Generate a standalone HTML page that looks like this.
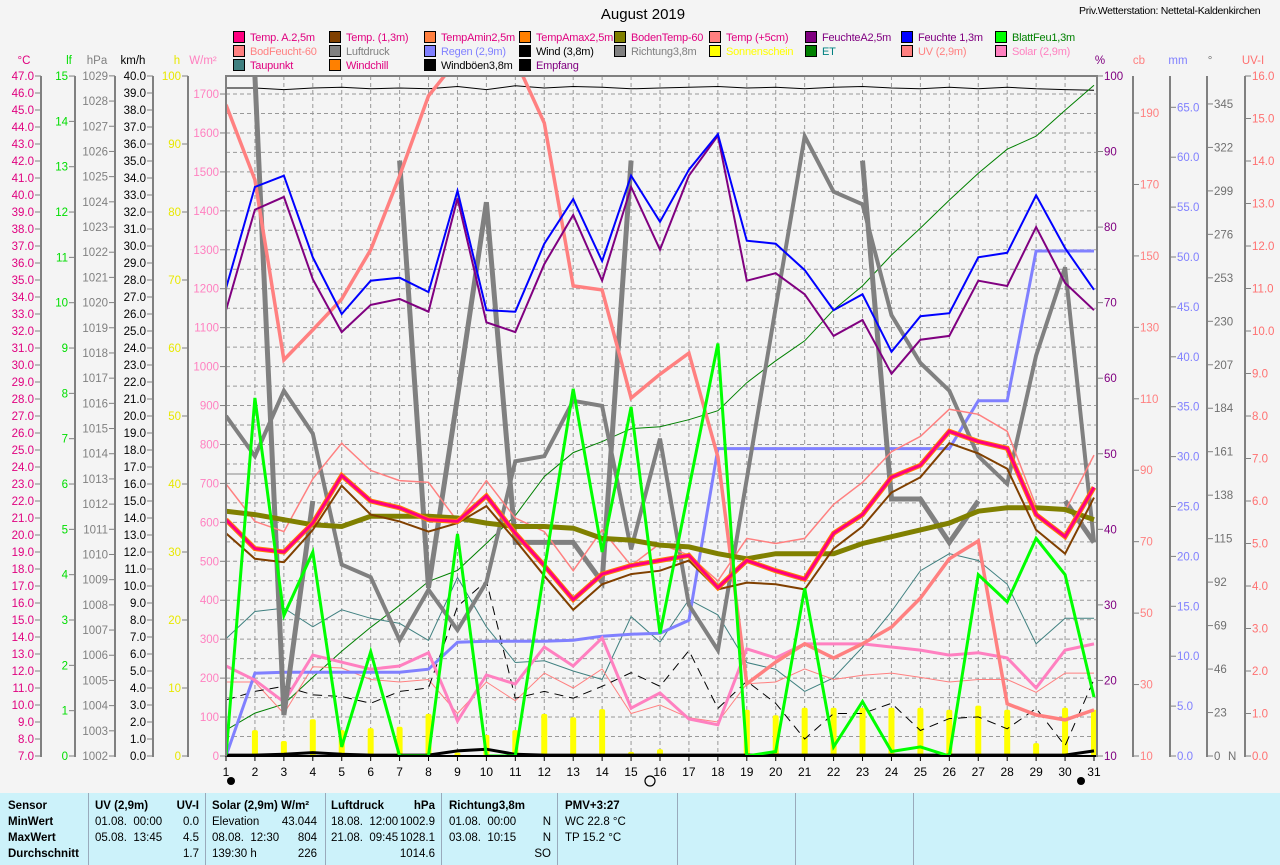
<!DOCTYPE html>
<html><head><meta charset="utf-8">
<style>
body{margin:0;background:#f4f4f4;font-family:"Liberation Sans",sans-serif;}
#wrap{position:relative;width:1280px;height:865px;overflow:hidden;background:#f4f4f4;}
.lg{position:absolute;font-size:11px;white-space:nowrap;line-height:14px;letter-spacing:-0.2px;}
.lg i{display:inline-block;width:10px;height:10px;border:1px solid #000;margin-right:5px;vertical-align:-2px;}
#tbl{position:absolute;left:0;top:793px;width:1280px;height:72px;background:#ccf2fa;font-size:11.5px;}
.c{position:absolute;top:0;height:72px;border-right:1px solid #9ab;}
.r{position:absolute;white-space:nowrap;}
b{font-weight:bold}
</style></head><body>
<div id="wrap">
<div style="position:absolute;left:0;width:1286px;text-align:center;top:6px;font-size:15px;">August 2019</div>
<div style="position:absolute;left:1079px;top:5px;font-size:10.5px;white-space:nowrap;letter-spacing:-0.3px;">Priv.Wetterstation: Nettetal-Kaldenkirchen</div>

<div>
<div class="lg" style="left:233px;top:31px;color:#e0007f"><i style="background:#ff0080"></i>Temp. A.2,5m</div>
<div class="lg" style="left:329px;top:31px;color:#e0007f"><i style="background:#804000"></i>Temp. (1,3m)</div>
<div class="lg" style="left:424px;top:31px;color:#e0007f"><i style="background:#ff8040"></i>TempAmin2,5m</div>
<div class="lg" style="left:519px;top:31px;color:#e0007f"><i style="background:#ff8000"></i>TempAmax2,5m</div>
<div class="lg" style="left:614px;top:31px;color:#e0007f"><i style="background:#808000"></i>BodenTemp-60</div>
<div class="lg" style="left:709px;top:31px;color:#e0007f"><i style="background:#ff8080"></i>Temp (+5cm)</div>
<div class="lg" style="left:805px;top:31px;color:#800080"><i style="background:#800080"></i>FeuchteA2,5m</div>
<div class="lg" style="left:901px;top:31px;color:#800080"><i style="background:#0000ff"></i>Feuchte 1,3m</div>
<div class="lg" style="left:995px;top:31px;color:#008000"><i style="background:#00ff00"></i>BlattFeu1,3m</div>

<div class="lg" style="left:233px;top:45px;color:#ff8080"><i style="background:#ff8080"></i>BodFeucht-60</div>
<div class="lg" style="left:329px;top:45px;color:#808080"><i style="background:#808080"></i>Luftdruck</div>
<div class="lg" style="left:424px;top:45px;color:#8080ff"><i style="background:#8080ff"></i>Regen (2,9m)</div>
<div class="lg" style="left:519px;top:45px;color:#000"><i style="background:#000"></i>Wind (3,8m)</div>
<div class="lg" style="left:614px;top:45px;color:#808080"><i style="background:#808080"></i>Richtung3,8m</div>
<div class="lg" style="left:709px;top:45px;color:#ffff00"><i style="background:#ffff00"></i>Sonnenschein</div>
<div class="lg" style="left:805px;top:45px;color:#008080"><i style="background:#008000"></i>ET</div>
<div class="lg" style="left:901px;top:45px;color:#ff8080"><i style="background:#ff8080"></i>UV (2,9m)</div>
<div class="lg" style="left:995px;top:45px;color:#ff80c0"><i style="background:#ff80c0"></i>Solar (2,9m)</div>

<div class="lg" style="left:233px;top:59px;color:#e0007f"><i style="background:#408080"></i>Taupunkt</div>
<div class="lg" style="left:329px;top:59px;color:#e0007f"><i style="background:#ff8000"></i>Windchill</div>
<div class="lg" style="left:424px;top:59px;color:#000"><i style="background:#000"></i>Windböen3,8m</div>
<div class="lg" style="left:519px;top:59px;color:#800080"><i style="background:#000"></i>Empfang</div>
</div>

<svg id="chart" width="1280" height="793" style="position:absolute;left:0;top:0" font-family="Liberation Sans, sans-serif"></svg>

<div id="tbl">
<div class="c" style="left:0;width:88px"><div class="r" style="left:8px;top:7px"><b>Sensor</b></div><div class="r" style="left:8px;top:23px"><b>MinWert</b></div><div class="r" style="left:8px;top:39px"><b>MaxWert</b></div><div class="r" style="left:8px;top:55px"><b>Durchschnitt</b></div></div>
<div class="c" style="left:89px;width:116px"><div class="r" style="left:6px;top:7px"><b>UV (2,9m)</b></div><div class="r" style="right:6px;top:7px"><b>UV-I</b></div><div class="r" style="left:6px;top:23px">01.08.&nbsp; 00:00</div><div class="r" style="right:6px;top:23px">0.0</div><div class="r" style="left:6px;top:39px">05.08.&nbsp; 13:45</div><div class="r" style="right:6px;top:39px">4.5</div><div class="r" style="right:6px;top:55px">1.7</div></div>
<div class="c" style="left:206px;width:119px"><div class="r" style="left:6px;top:7px"><b>Solar (2,9m) W/m²</b></div><div class="r" style="left:6px;top:23px">Elevation</div><div class="r" style="right:8px;top:23px">43.044</div><div class="r" style="left:6px;top:39px">08.08.&nbsp; 12:30</div><div class="r" style="right:8px;top:39px">804</div><div class="r" style="left:6px;top:55px">139:30 h</div><div class="r" style="right:8px;top:55px">226</div></div>
<div class="c" style="left:326px;width:115px"><div class="r" style="left:5px;top:7px"><b>Luftdruck</b></div><div class="r" style="right:6px;top:7px"><b>hPa</b></div><div class="r" style="left:5px;top:23px">18.08.&nbsp; 12:00</div><div class="r" style="right:6px;top:23px">1002.9</div><div class="r" style="left:5px;top:39px">21.08.&nbsp; 09:45</div><div class="r" style="right:6px;top:39px">1028.1</div><div class="r" style="right:6px;top:55px">1014.6</div></div>
<div class="c" style="left:442px;width:115px"><div class="r" style="left:7px;top:7px"><b>Richtung3,8m</b></div><div class="r" style="left:7px;top:23px">01.08.&nbsp; 00:00</div><div class="r" style="right:6px;top:23px">N</div><div class="r" style="left:7px;top:39px">03.08.&nbsp; 10:15</div><div class="r" style="right:6px;top:39px">N</div><div class="r" style="right:6px;top:55px">SO</div></div>
<div class="c" style="left:558px;width:119px"><div class="r" style="left:7px;top:7px"><b>PMV+3:27</b></div><div class="r" style="left:7px;top:23px">WC 22.8 °C</div><div class="r" style="left:7px;top:39px">TP 15.2 °C</div></div>
<div class="c" style="left:678px;width:117px"></div>
<div class="c" style="left:796px;width:117px"></div>
</div>
</div>

<script>
// ---- data (per day 1..31) ----
const days = [1,2,3,4,5,6,7,8,9,10,11,12,13,14,15,16,17,18,19,20,21,22,23,24,25,26,27,28,29,30,31];
const feuchte13 = [71.9,85.3,86.8,76.0,68.5,72.9,73.3,71.4,84.8,69.0,68.8,77.8,83.7,75.5,86.8,80.7,87.6,92.3,78.2,77.8,74.3,69.0,71.1,63.5,68.2,68.6,76.0,76.6,84.2,77.2,71.7];
const feuchteA = [69.0,82.3,84.0,73.1,66.1,69.7,70.5,68.8,83.8,67.4,66.1,75.1,81.6,72.9,85.3,77.0,86.8,92.1,72.9,73.9,71.1,65.6,67.7,60.6,65.1,65.6,72.9,72.2,80.0,72.6,69.0];
const tempA = [20.9,19.2,19.0,20.7,23.5,22.0,21.6,20.9,20.8,22.3,20.1,18.2,16.2,17.7,18.2,18.5,18.8,16.9,18.5,17.9,17.4,20.1,21.2,23.4,24.1,26.1,25.5,25.1,21.2,19.9,22.8];
const temp13 = [20.1,18.6,18.4,20.3,22.9,21.2,20.8,20.2,20.7,21.7,19.7,17.6,15.6,17.1,17.7,17.9,18.5,16.8,17.2,17.1,16.8,19.2,20.5,22.5,23.4,25.4,24.8,23.9,20.3,18.9,22.2];
const bodenTemp = [21.4,21.2,20.9,20.6,20.5,21.1,21.1,21.1,21.0,20.7,20.5,20.5,20.4,19.8,19.7,19.4,19.3,18.9,18.6,18.9,18.9,18.9,19.5,19.9,20.3,20.7,21.4,21.6,21.6,21.5,20.9];
const temp5cm = [23.0,20.8,20.2,23.3,25.4,23.8,23.2,23.1,20.8,23.2,21.0,20.2,17.9,20.3,18.2,19.5,18.8,17.3,19.8,19.5,19.8,21.8,23.1,24.9,25.8,27.4,27.1,26.1,21.7,21.4,24.7];
const taupunkt = [13.9,15.5,15.7,14.6,15.6,15.1,14.8,13.8,17.5,14.6,12.5,12.6,12.0,11.5,15.2,13.7,16.2,15.3,12.5,12.1,10.8,11.6,13.4,15.5,17.9,18.9,18.5,17.1,13.6,15.1,15.1];
const bodFeucht = [192.3,171.3,120.9,129.3,137.9,151.7,172.4,194.8,205,205,205,187.2,141.6,140.5,110.2,116.9,122.8,93.7,30.2,36.3,41.4,37.4,41.4,46.1,54.2,65.2,70.2,24.6,21.5,20.1,22.9];
const solar = [231,195,139,259,241,223,231,265,90,208,185,280,231,303,123,162,95,80,275,252,288,288,288,280,272,259,265,252,175,272,288];
const uv = [1.74,1.74,1.0,2.1,2.07,1.8,1.74,1.8,1.0,1.74,1.3,1.95,1.6,2.05,1.0,1.2,0.9,0.8,1.7,1.74,2.05,1.8,1.9,1.95,1.85,1.74,1.8,1.8,1.5,1.95,1.95];
const regen = [0,8.3,8.4,8.4,8.4,8.4,8.4,8.7,11.4,11.5,11.5,11.5,11.6,12.0,12.2,12.3,13.6,30.8,30.8,30.8,30.8,30.8,30.8,30.8,30.8,30.8,35.6,35.6,50.6,50.6,50.6];
const et = [2.6,4.3,5.2,7.9,10.5,12.9,15.1,17.5,18.6,21.3,24.1,28.0,30.4,31.5,32.8,33.0,33.7,34.6,37.4,39.6,41.6,44.7,47.1,50.2,52.9,55.7,58.4,60.8,62.1,64.7,67.2];
const luftdruck = [1015.5,1013.9,1016.5,1014.8,1009.6,1009.1,1006.6,1008.6,1007.0,1008.9,1013.7,1013.9,1016.1,1015.9,1010.2,1014.6,1008.0,1006.2,1013.0,1019.8,1026.6,1024.4,1023.9,1019.5,1017.6,1016.5,1013.9,1012.8,1017.9,1021.4,1010.5];
const richtung = [null,360,21.7,135,null,null,315,89,190,293,113,113,113,92,315,null,null,null,null,null,null,null,315,136,136,113,135,null,null,135,113];
const blattFeuchte = [0,7.9,3.1,4.5,0.2,2.3,0,0,4.9,0,0,4.1,8.1,4.5,7.7,2.7,5.9,9.1,0,0.1,3.7,0.2,1.2,0.1,0.2,0,4.0,3.4,4.8,4.0,1.3];
const windboeen = [3.3,3.8,4.1,3.6,3.5,3.1,3.8,4.0,8.8,10.3,3.4,3.8,3.4,4.1,4.9,4.1,6.2,2.8,4.4,3.1,1.0,2.5,2.5,3.1,1.5,2.2,2.3,1.6,2.8,0.6,4.5];
const wind = [0.05,0.05,0.1,0.2,0.1,0.05,0.05,0.05,0.3,0.4,0.1,0.05,0.05,0.05,0.05,0.05,0.05,0.05,0.05,0.05,0.05,0.05,0.05,0.05,0.05,0.05,0.05,0.05,0.05,0.05,0.3];
const empfang = [98.4,98.4,98.2,98.4,98.5,98.3,98.4,98.3,98.6,98.2,98.7,98.4,98.6,98.5,98.3,98.4,98.5,98.6,98.4,98.5,98.3,98.5,98.6,98.4,98.3,98.5,98.3,98.5,98.3,98.2,98.1];
const sonnenschein = [0,3.8,2.2,5.4,3.8,4.1,4.3,6.2,0.5,3.1,3.8,6.2,5.7,6.9,0.6,1.0,0,0,6.8,6.0,7.1,7.1,7.1,7.1,7.1,6.8,7.4,6.8,1.9,7.1,6.8];

// ---- scales ----
const X = d => 226 + (d-1)*28.933;
const yT = v => 756 - (v-7)*17;
const yP = v => 756 - (v-10)*7.556;
const yW = v => 756 - v*0.3894;
const yMM = v => 756 - v*9.98;
const yDeg = v => 756 - v*1.89;
const yCb = v => 756 - (v-10)*3.572;
const yKmh = v => 756 - v*17;
const yH = v => 756 - v*6.8;
const yHpa = v => 756 - (v-1002)*25.19;
const yLf = v => 756 - v*45.33;
const yUV = v => 756 - v*42.5;

const NS='http://www.w3.org/2000/svg';
const svg=document.getElementById('chart');
function mk(tag,attrs,parent){const e=document.createElementNS(NS,tag);for(const k in attrs)e.setAttribute(k,attrs[k]);(parent||svg).appendChild(e);return e;}

const defs=mk('defs',{});
const cp=mk('clipPath',{id:'pc'},defs);
mk('rect',{x:226,y:76,width:871,height:680},cp);

const grid=mk('g',{});


for(let v=50;v<=1750;v+=50){const y=yW(v);if(y<77)continue;mk('line',{x1:226,x2:1097,y1:y,y2:y,stroke:'#999','stroke-dasharray':'4,3','stroke-width':1},grid);}
for(const d of days){if(d===1||d===31)continue;mk('line',{x1:X(d),x2:X(d),y1:76,y2:756,stroke:'#999','stroke-dasharray':'4,3','stroke-width':1},grid);}
const refl=mk('line',{x1:226,x2:1097,y1:474,y2:474,stroke:'#888','stroke-width':1});



const plot=mk('g',{'clip-path':'url(#pc)'});



for(let i=0;i<days.length;i++){
  if(sonnenschein[i]<=0)continue;
  const y=yH(sonnenschein[i]);
  const b=mk('rect',{x:X(days[i])-3,y:y,width:6,height:756-y,fill:'#ffff00',rx:2},plot);
  
  
}

function line(vals,sy,color,w,name,dash){
  let d='',pen=false;
  for(let i=0;i<vals.length;i++){
    if(vals[i]===null){pen=false;continue;}
    d+=(pen?'L':'M')+X(days[i]).toFixed(1)+' '+sy(vals[i]).toFixed(1)+' ';
    pen=true;
  }
  const p=mk('path',{d:d,fill:'none',stroke:color,'stroke-width':w,'stroke-linejoin':'miter'},plot);
  if(dash)p.setAttribute('stroke-dasharray',dash);
  
  
  return p;
}
line(empfang,yP,'#000',1,'empfang-line');
line(et,yMM,'#008000',1,'et-line');
line(taupunkt,yT,'#408080',1,'taupunkt-line');
line(uv,yUV,'#ff8080',1,'uv-line');
line(windboeen,yKmh,'#000',1,'windboeen-line','9,6');
line(regen,yMM,'#8080ff',3,'regen-line');
line(solar,yW,'#ff80c0',3,'solar-line');
line(luftdruck,yHpa,'#808080',4,'luftdruck-line');
line(richtung,yDeg,'#808080',5,'richtung-line');
line(wind,yKmh,'#000',3,'wind-line');
line(bodFeucht,yCb,'#ff8080',3.5,'bodfeucht-line');
line(temp5cm,yT,'#ff8080',1.5,'temp-5cm-line');
line(bodenTemp,yT,'#808000',5,'bodentemp-line');
line(temp13,yT,'#804000',2,'temp-13-line');
line(tempA,yT,'#ff8000',5,'tempamax-line');
line(tempA,yT,'#ff0080',3,'temp-a-line');
line(feuchteA,yP,'#800080',2,'feuchte-a-line');
line(feuchte13,yP,'#0000ff',2,'feuchte-13-line');
line(blattFeuchte,yLf,'#00ff00',3,'blattfeuchte-line');

const fr=mk('rect',{x:226,y:76,width:871,height:680,fill:'none',stroke:'#808080','stroke-width':2});


mk('line',{x1:226,x2:1097,y1:756,y2:756,stroke:'#000','stroke-width':2});

function axis(name,x,from,to,step,sy,color,side,fmt,unit,ux){
  const g=mk('g',{fill:color,'font-size':11.5});
  
  
  mk('line',{x1:x,x2:x,y1:76,y2:757,stroke:'#808080','stroke-width':2},g);
  for(let v=from;step>0?v<=to+1e-6:v>=to-1e-6;v+=step){
    const y=sy(v);
    if(side==='L'){mk('line',{x1:x-6,x2:x,y1:y,y2:y,stroke:'#808080'},g);
      const t=mk('text',{x:x-7,y:y+4,'text-anchor':'end'},g);t.textContent=fmt(v);}
    else{mk('line',{x1:x,x2:x+6,y1:y,y2:y,stroke:'#808080'},g);
      const t=mk('text',{x:x+7,y:y+4},g);t.textContent=fmt(v);}
  }
  const u=mk('text',{x:ux,y:64,'text-anchor':'middle'},g);u.textContent=unit;
}
axis('celsius-axis',41,7,47,1,yT,'#e0007f','L',v=>v.toFixed(1),'°C',24);
axis('leaf-wetness-axis',75,0,15,1,yLf,'#00dd00','L',v=>String(v),'lf',69);
axis('pressure-axis',115,1002,1029,1,yHpa,'#808080','L',v=>String(v),'hPa',97);
axis('wind-speed-axis',153,0,40,1,yKmh,'#000','L',v=>v.toFixed(1),'km/h',133);
axis('sunshine-axis',188,0,100,10,yH,'#e8e800','L',v=>String(v),'h',177);
axis('solar-axis',226,0,1700,100,yW,'#ff80c0','L',v=>String(v),'W/m²',203);
axis('humidity-axis',1097,10,100,10,yP,'#800080','R',v=>String(v),'%',1100);
axis('soil-moisture-axis',1133,10,190,20,yCb,'#ff8080','R',v=>String(v),'cb',1139);
axis('rain-axis',1170,0,65,5,yMM,'#8080ff','R',v=>v.toFixed(1),'mm',1178);
axis('direction-axis',1207,0,345,23,yDeg,'#707070','R',v=>String(v),'°',1210);
axis('uv-axis',1245,0,16,1,yUV,'#ff7070','R',v=>v.toFixed(1),'UV-I',1253);
const nl=mk('text',{x:1228,y:760,fill:'#707070','font-size':11.5});nl.textContent='N';

const xa=mk('g',{'font-size':12,fill:'#000'});


for(const d of days){
  mk('line',{x1:X(d),x2:X(d),y1:756,y2:761,stroke:'#000'},xa);
  const t=mk('text',{x:X(d),y:776,'text-anchor':'middle'},xa);t.textContent=String(d);
}
const m1=mk('circle',{cx:231,cy:781,r:4,fill:'#000'});
const m2=mk('circle',{cx:650,cy:781,r:5,fill:'none',stroke:'#000','stroke-width':1.2});
const m3=mk('circle',{cx:1081,cy:781,r:4,fill:'#000'});
</script>
</body></html>
